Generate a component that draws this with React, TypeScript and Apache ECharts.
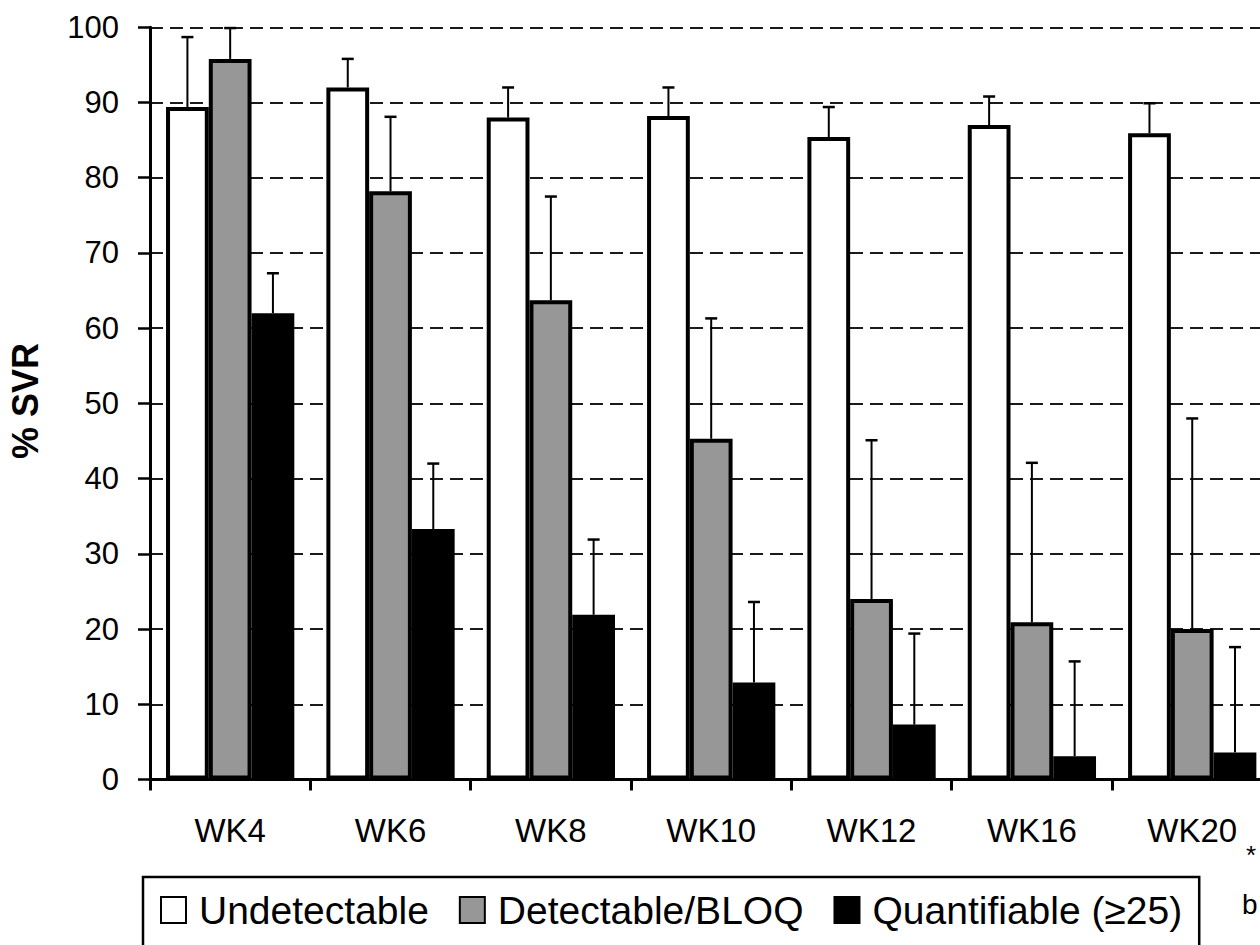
import React, { useEffect, useRef } from "react";
import * as echarts from "echarts";

const categories = ["WK4", "WK6", "WK8", "WK10", "WK12", "WK16", "WK20"];
const seriesNames = ["Undetectable", "Detectable/BLOQ", "Quantifiable (\u226525)"];
const undetectable = [89.4, 92.0, 88.0, 88.2, 85.4, 87.0, 85.9];
const undetectableErr = [98.7, 95.8, 92.0, 92.0, 89.4, 90.8, 89.9];
const detectable = [95.8, 78.2, 63.7, 45.3, 24.0, 20.9, 20.0];
const detectableErr = [99.9, 88.1, 77.5, 61.3, 45.1, 42.1, 48.0];
const quantifiable = [62.0, 33.3, 21.9, 12.9, 7.3, 3.1, 3.6];
const quantifiableErr = [67.3, 42.0, 31.9, 23.6, 19.4, 15.7, 17.6];
const yTicks = [0, 10, 20, 30, 40, 50, 60, 70, 80, 90, 100];

const FONT = "'Liberation Sans', Arial, Helvetica, sans-serif";
const CAT_GAP = 0.2;
const colors = ["#ffffff", "#979797", "#000000"];

function makeErr(idx: number) {
  return (params: any, api: any) => {
    const i = api.value(0);
    const hi = api.value(1);
    const lo = api.value(2);
    const top = api.coord([i, hi]);
    const bot = api.coord([i, lo]);
    const band = api.size([1, 0])[0];
    const bw = (band * (1 - CAT_GAP)) / 3;
    const cx = top[0] + (idx - 1) * bw;
    return {
      type: "group",
      children: [
        {
          type: "line",
          shape: { x1: cx, y1: bot[1], x2: cx, y2: top[1] },
          style: { stroke: "#000", lineWidth: 2 },
        },
        {
          type: "line",
          shape: { x1: cx - 6, y1: top[1], x2: cx + 6, y2: top[1] },
          style: { stroke: "#000", lineWidth: 2.5 },
        },
      ],
    };
  };
}

export default function App() {
  const ref = useRef<HTMLDivElement>(null);
  useEffect(() => {
    if (!ref.current) return;
    const chart = echarts.init(ref.current, undefined, { renderer: "svg" });
    const values = [undetectable, detectable, quantifiable];
    const errs = [undetectableErr, detectableErr, quantifiableErr];
    const barSeries = seriesNames.map((name, k) => ({
      name,
      type: "bar",
      data: values[k],
      barGap: "0%",
      barCategoryGap: "20%",
      itemStyle: { color: colors[k], borderColor: "#000", borderWidth: 4 },
      z: 2,
    }));
    const errSeries = seriesNames.map((name, k) => ({
      name: name + " err",
      type: "custom",
      renderItem: makeErr(k),
      data: categories.map((_, i) => [i, errs[k][i], values[k][i]]),
      encode: { x: 0, y: [1, 2] },
      z: 3,
      silent: true,
    }));
    chart.setOption({
      animation: false,
      backgroundColor: "#ffffff",
      textStyle: { fontFamily: FONT },
      grid: { left: 150, right: 7.6, top: 27.3, bottom: 165.5, containLabel: false },
      legend: {
        data: seriesNames,
        left: 143,
        top: 877,
        orient: "horizontal",
        icon: "rect",
        itemWidth: 25,
        itemHeight: 26,
        itemGap: 30,
        padding: [13, 17, 40, 17],
        borderColor: "#000",
        borderWidth: 2.5,
        itemStyle: { borderColor: "#000", borderWidth: 2 },
        textStyle: { fontSize: 39, color: "#000", fontFamily: FONT, lineHeight: 40, padding: [0, 0, 0, 8] },
        selectedMode: false,
      },
      xAxis: {
        type: "category",
        data: categories,
        axisLine: { show: true, lineStyle: { color: "#000", width: 3 } },
        axisTick: { show: true, length: 11, lineStyle: { color: "#000", width: 3 } },
        axisLabel: { fontSize: 33, color: "#000", margin: 34, fontFamily: FONT },
        splitLine: { show: false },
      },
      yAxis: {
        type: "value",
        min: yTicks[0],
        max: yTicks[yTicks.length - 1],
        interval: 10,
        axisLine: { show: true, lineStyle: { color: "#000", width: 3 } },
        axisTick: { show: true, length: 12, lineStyle: { color: "#000", width: 2.5 } },
        axisLabel: { fontSize: 31, color: "#000", margin: 31, fontFamily: FONT },
        splitLine: { show: true, lineStyle: { color: "#1a1a1a", width: 2, type: [13, 7] } },
      },
      graphic: [
        {
          type: "text",
          x: 25,
          y: 401,
          rotation: Math.PI / 2,
          style: {
            text: "% SVR",
            font: `bold 36px ${FONT}`,
            fill: "#000",
            align: "center",
            verticalAlign: "middle",
          },
        },
        {
          type: "text",
          x: 1246,
          y: 842,
          style: { text: "*", font: `26px ${FONT}`, fill: "#000", align: "left", verticalAlign: "top" },
        },
        {
          type: "text",
          x: 1242,
          y: 890,
          style: { text: "b", font: `28px ${FONT}`, fill: "#000", align: "left", verticalAlign: "top" },
        },
      ],
      series: [...barSeries, ...errSeries],
    });
    return () => chart.dispose();
  }, []);
  return (
    <div style={{ position: "fixed", left: 0, top: 0, width: 1260, height: 945, overflow: "hidden", background: "#fff" }}>
      <div ref={ref} style={{ width: 1280, height: 945 }} />
    </div>
  );
}
